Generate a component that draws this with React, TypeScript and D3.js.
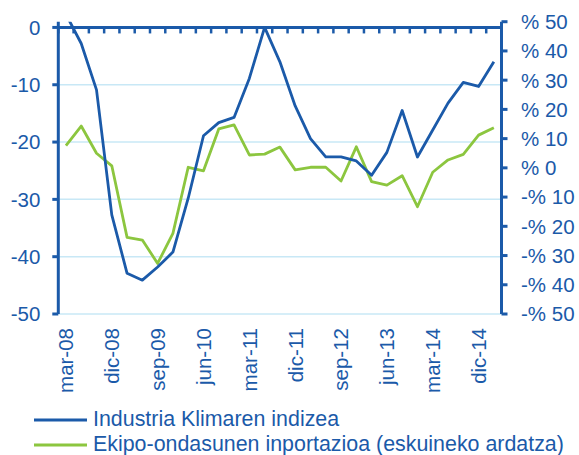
import { useEffect, useRef } from "react";
import * as d3 from "d3";

// Quarterly periods, mar-08 .. mar-15
const periods = [
  "mar-08", "jun-08", "sep-08", "dic-08",
  "mar-09", "jun-09", "sep-09", "dic-09",
  "mar-10", "jun-10", "sep-10", "dic-10",
  "mar-11", "jun-11", "sep-11", "dic-11",
  "mar-12", "jun-12", "sep-12", "dic-12",
  "mar-13", "jun-13", "sep-13", "dic-13",
  "mar-14", "jun-14", "sep-14", "dic-14",
  "mar-15",
];

// Left axis series
const climateIndex = [
  2.3, -2.8, -10.9, -32.7,
  -42.9, -44.1, -41.8, -39.2,
  -29.8, -18.9, -16.6, -15.7,
  -8.9, 0, -6.0, -13.7,
  -19.4, -22.6, -22.6, -23.3,
  -25.8, -21.8, -14.5, -22.6,
  -17.9, -13.2, -9.6, -10.3,
  -6.0,
];

// Right axis series (%)
const equipmentImports = [
  7.6, 14.3, 5.0, 0.7,
  -23.8, -24.7, -32.7, -22.4,
  0.2, -1.0, 13.3, 14.7,
  4.4, 4.7, 7.1, -0.7,
  0.2, 0.2, -4.5, 7.2,
  -4.7, -5.9, -2.7, -13.3,
  -1.5, 2.7, 4.6, 11.2,
  13.7,
];

const tickLabels = [
  "mar-08", "dic-08", "sep-09", "jun-10", "mar-11",
  "dic-11", "sep-12", "jun-13", "mar-14", "dic-14",
];

const leftTicks = [0, -10, -20, -30, -40, -50];
const rightTicks = [50, 40, 30, 20, 10, 0, -10, -20, -30, -40, -50];

const seriesNames = [
  "Industria Klimaren indizea",
  "Ekipo-ondasunen inportazioa (eskuineko ardatza)",
];

const BLUE = "#1b5aa9";
const GREEN = "#8cc63f";
const GRID = "#c8e8f6";
const FONT = "'Liberation Sans', Arial, sans-serif";
const FONT_SIZE = 20.5;
const LEGEND_FONT_SIZE = 21.4;

const WIDTH = 579;
const HEIGHT = 455;
const PLOT = { left: 58.3, right: 501.5, top: 21.7, bottom: 314 };

export default function App() {
  const svgRef = useRef<SVGSVGElement>(null);

  useEffect(() => {
    document.body.style.margin = "0";
    if (!svgRef.current) return;

    const svg = d3.select(svgRef.current);
    svg.selectAll("*").remove();

    const x = d3
      .scaleBand<string>()
      .domain(periods)
      .range([PLOT.left, PLOT.right]);
    const cx = (p: string) => (x(p) ?? 0) + x.bandwidth() / 2;

    const yLeft = d3.scaleLinear().domain([-50, 1]).range([PLOT.bottom, PLOT.top]);
    const yRight = d3.scaleLinear().domain([-50, 50]).range([PLOT.bottom, PLOT.top]);

    // Gridlines (left axis)
    svg
      .append("g")
      .selectAll("line")
      .data(leftTicks.filter((t) => t !== 0))
      .join("line")
      .attr("x1", PLOT.left)
      .attr("x2", PLOT.right)
      .attr("y1", (d) => yLeft(d))
      .attr("y2", (d) => yLeft(d))
      .attr("stroke", GRID)
      .attr("stroke-width", 1.5);

    // Clip for the lines
    svg
      .append("defs")
      .append("clipPath")
      .attr("id", "plot-clip")
      .append("rect")
      .attr("x", PLOT.left)
      .attr("y", PLOT.top)
      .attr("width", PLOT.right - PLOT.left)
      .attr("height", PLOT.bottom - PLOT.top);

    // Left value axis
    const left = svg.append("g").attr("transform", `translate(${PLOT.left},0)`);
    left
      .append("line")
      .attr("y1", PLOT.top)
      .attr("y2", PLOT.bottom)
      .attr("stroke", BLUE)
      .attr("stroke-width", 3);
    left
      .selectAll("line.tick")
      .data(leftTicks)
      .join("line")
      .attr("class", "tick")
      .attr("x1", -6)
      .attr("x2", 0)
      .attr("y1", (d) => yLeft(d))
      .attr("y2", (d) => yLeft(d))
      .attr("stroke", BLUE)
      .attr("stroke-width", 3);
    left
      .selectAll("text")
      .data(leftTicks)
      .join("text")
      .attr("x", -18)
      .attr("y", (d) => yLeft(d))
      .attr("dy", "0.36em")
      .attr("text-anchor", "end")
      .attr("fill", BLUE)
      .attr("font-family", FONT)
      .attr("font-size", FONT_SIZE)
      .text((d) => `${d}`);

    // Right value axis
    const right = svg.append("g").attr("transform", `translate(${PLOT.right},0)`);
    right
      .append("line")
      .attr("y1", PLOT.top)
      .attr("y2", PLOT.bottom)
      .attr("stroke", BLUE)
      .attr("stroke-width", 3);
    right
      .selectAll("line.tick")
      .data(rightTicks)
      .join("line")
      .attr("class", "tick")
      .attr("x1", 0)
      .attr("x2", 6)
      .attr("y1", (d) => yRight(d))
      .attr("y2", (d) => yRight(d))
      .attr("stroke", BLUE)
      .attr("stroke-width", 3);
    right
      .selectAll("text")
      .data(rightTicks)
      .join("text")
      .attr("x", 19.5)
      .attr("y", (d) => yRight(d))
      .attr("dy", "0.36em")
      .attr("fill", BLUE)
      .attr("font-family", FONT)
      .attr("font-size", FONT_SIZE)
      .text((d) => (d < 0 ? `-% ${-d}` : `% ${d}`));

    // Category axis crossing at 0
    const y0 = yLeft(0);
    const cat = svg.append("g");
    cat
      .selectAll("line.tick")
      .data(periods)
      .join("line")
      .attr("class", "tick")
      .attr("x1", (d) => x(d) ?? 0)
      .attr("x2", (d) => x(d) ?? 0)
      .attr("y1", y0)
      .attr("y2", y0 + 6)
      .attr("stroke", BLUE)
      .attr("stroke-width", 2.5);
    cat
      .append("line")
      .attr("x1", PLOT.left)
      .attr("x2", PLOT.right)
      .attr("y1", y0)
      .attr("y2", y0)
      .attr("stroke", BLUE)
      .attr("stroke-width", 3);

    // Category labels (low position, rotated)
    svg
      .append("g")
      .selectAll("text")
      .data(tickLabels)
      .join("text")
      .attr("transform", (d) => `translate(${cx(d)},${PLOT.bottom + 14}) rotate(-90)`)
      .attr("dy", "0.36em")
      .attr("text-anchor", "end")
      .attr("fill", BLUE)
      .attr("font-family", FONT)
      .attr("font-size", FONT_SIZE)
      .text((d) => d);

    // Lines
    const lineLeft = d3
      .line<number>()
      .x((_, i) => cx(periods[i]))
      .y((d) => yLeft(d));
    const lineRight = d3
      .line<number>()
      .x((_, i) => cx(periods[i]))
      .y((d) => yRight(d));

    const lines = svg.append("g").attr("clip-path", "url(#plot-clip)");
    lines
      .append("path")
      .datum(equipmentImports)
      .attr("d", lineRight)
      .attr("fill", "none")
      .attr("stroke", GREEN)
      .attr("stroke-width", 2.8)
      .attr("stroke-linejoin", "round");
    lines
      .append("path")
      .datum(climateIndex)
      .attr("d", lineLeft)
      .attr("fill", "none")
      .attr("stroke", BLUE)
      .attr("stroke-width", 2.8)
      .attr("stroke-linejoin", "round");

    // Legend
    const legend = svg
      .append("g")
      .selectAll("g")
      .data(seriesNames)
      .join("g")
      .attr("transform", (_, i) => `translate(34,${420 + i * 25})`);
    legend
      .append("line")
      .attr("x1", 0)
      .attr("x2", 53)
      .attr("stroke", (_, i) => (i === 0 ? BLUE : GREEN))
      .attr("stroke-width", 2.8);
    legend
      .append("text")
      .attr("x", 59)
      .attr("dy", "0.3em")
      .attr("fill", BLUE)
      .attr("font-family", FONT)
      .attr("font-size", LEGEND_FONT_SIZE)
      .text((d) => d);
  }, []);

  return <svg ref={svgRef} width={WIDTH} height={HEIGHT} style={{ display: "block" }} />;
}
